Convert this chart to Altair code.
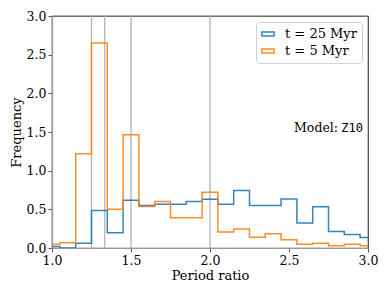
import altair as alt
import pandas as pd

# bin edges (left edges) of the period-ratio histogram, bin width 0.1
left_edges = [0.95, 1.05, 1.15, 1.25, 1.35, 1.45, 1.55, 1.65, 1.75, 1.85, 1.95,
              2.05, 2.15, 2.25, 2.35, 2.45, 2.55, 2.65, 2.75, 2.85, 2.95]
last_edge = 3.05

freq_25 = [0.02, 0.0, 0.06, 0.485, 0.197, 0.618, 0.549, 0.566, 0.566, 0.60, 0.63,
           0.566, 0.742, 0.548, 0.548, 0.635, 0.322, 0.532, 0.214, 0.175, 0.137]
freq_5 = [0.05, 0.068, 1.22, 2.65, 0.50, 1.465, 0.536, 0.60, 0.39, 0.39, 0.72,
          0.206, 0.245, 0.14, 0.184, 0.107, 0.05, 0.06, 0.028, 0.05, 0.03]

series_names = ["t = 25 Myr", "t = 5 Myr"]
series_colors = ["#1f77b4", "#ff7f0e"]
ref_lines = [1.25, 4 / 3, 1.5, 2.0]
x_ticks = [1.0, 1.5, 2.0, 2.5, 3.0]
y_ticks = [0.0, 0.5, 1.0, 1.5, 2.0, 2.5, 3.0]

rows = []
for name, vals in zip(series_names, [freq_25, freq_5]):
    for e, v in zip(left_edges, vals):
        rows.append({"x": e, "y": v, "series": name})
    rows.append({"x": last_edge, "y": vals[-1], "series": name})
df = pd.DataFrame(rows)

serif = "DejaVu Serif"
mono = "DejaVu Sans Mono"

xscale = alt.Scale(domain=[1.0, 3.0], nice=False, zero=False)
yscale = alt.Scale(domain=[0.0, 3.0], nice=False)
xaxis = alt.Axis(values=x_ticks, format=".1f", title="Period ratio")
yaxis = alt.Axis(values=y_ticks, format=".1f", title="Frequency")


def X():
    return alt.X("x:Q", scale=xscale, axis=xaxis)


def Y():
    return alt.Y("y:Q", scale=yscale, axis=yaxis)


rules = alt.Chart(pd.DataFrame({"x": ref_lines})).mark_rule(
    color="#b8b8b8", strokeWidth=1.4
).encode(x=X())

lines = alt.Chart(df).mark_line(
    interpolate="step-after", clip=True, strokeWidth=1.5, opacity=0.9
).encode(
    x=X(),
    y=Y(),
    color=alt.Color("series:N", scale=alt.Scale(domain=series_names, range=series_colors),
                    sort=series_names,
                    legend=alt.Legend(title=None, orient="top-right", offset=6,
                                      symbolType="M-1,-0.32H1V0.32H-1Z",
                                      symbolSize=150, symbolStrokeWidth=1.5,
                                      symbolFillColor="transparent",
                                      labelFont=serif, labelFontSize=13,
                                      labelColor="black", labelOffset=10,
                                      padding=5, rowPadding=3,
                                      fillColor="white", strokeColor="#d0d0d0",
                                      cornerRadius=3)),
    detail="series:N",
)

ann = pd.DataFrame({"x": [3.0], "y": [1.55]})
t_model = alt.Chart(ann).mark_text(
    text="Model:", font=serif, fontSize=12.5, align="right", baseline="middle",
    dx=-30, color="black"
).encode(x=X(), y=Y())
t_z = alt.Chart(ann).mark_text(
    text="Z10", font=mono, fontSize=12, align="right", baseline="middle",
    dx=-5, color="black"
).encode(x=X(), y=Y())

top_spine = alt.Chart(ann).mark_rule(color="#999999", strokeWidth=1.2).encode(
    x=alt.value(0), x2=alt.value(316), y=alt.value(0))

chart = alt.layer(rules, lines, t_model, t_z, top_spine).properties(
    width=316, height=232,
    autosize=alt.AutoSizeParams(type="none"),
    padding={"left": 44, "top": 8, "right": 14, "bottom": 36},
).configure_view(
    stroke="#444444", strokeWidth=1.2
).configure_axis(
    grid=False, domainColor="#999999", domainWidth=1.2,
    tickColor="#555555", tickSize=4, labelFont=serif, labelFontSize=12.5,
    labelColor="black", titleFont=serif, titleFontSize=13,
    titleFontWeight="normal", titleColor="black", labelPadding=2,
    labelOverlap=False,
).configure_axisY(titlePadding=3).configure_axisX(titlePadding=3, labelFlush=False)

chart.save("out.html", embed_options={"renderer": "svg", "actions": False})
